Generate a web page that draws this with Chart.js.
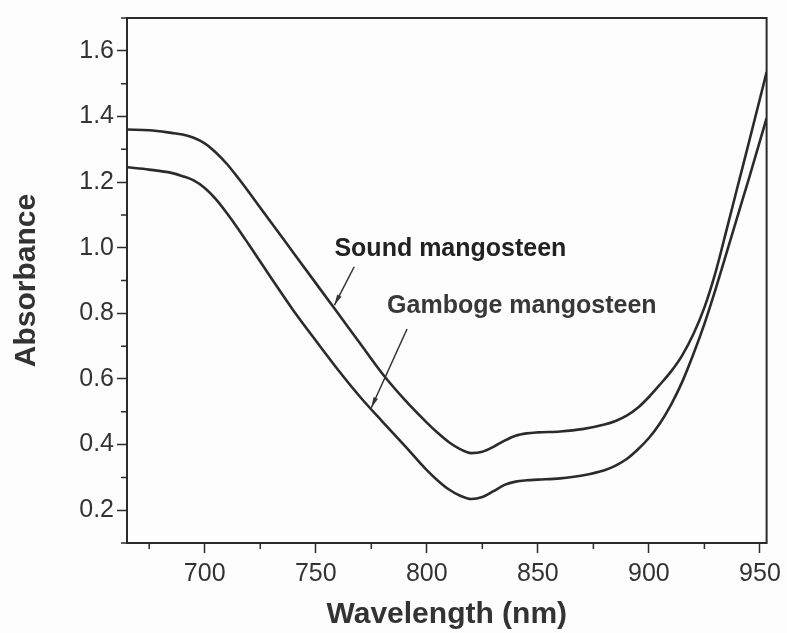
<!DOCTYPE html>
<html>
<head>
<meta charset="utf-8">
<script src="https://cdn.jsdelivr.net/npm/chart.js@4/dist/chart.umd.min.js"></script>
<style>
  html, body { margin: 0; padding: 0; background: #fdfdfd; }
  canvas { display: block; }
</style>
</head>
<body>
<canvas id="grafico" width="787" height="633"></canvas>
<script>
    // values
    const wavelengths = [665, 675, 685, 690, 695, 700, 705, 710, 715, 720, 730, 740, 750, 760, 770, 780, 790,
      800, 805, 810, 815, 820, 825, 830, 835, 840, 845, 850, 860, 870, 880, 885, 890, 895, 900,
      905, 910, 915, 920, 925, 930, 935, 940, 945, 953];

    const soundAbs = [1.360, 1.358, 1.350, 1.345, 1.335, 1.318, 1.290, 1.255, 1.213, 1.168, 1.076, 0.984, 0.892, 0.800, 0.708, 0.616, 0.537,
      0.467, 0.435, 0.407, 0.386, 0.374, 0.378, 0.393, 0.412, 0.427, 0.434, 0.437, 0.440, 0.447, 0.461, 0.472, 0.488, 0.512, 0.545,
      0.583, 0.623, 0.672, 0.736, 0.818, 0.925, 1.055, 1.188, 1.320, 1.535];

    const gambogeAbs = [1.245, 1.238, 1.228, 1.218, 1.205, 1.182, 1.148, 1.105, 1.058, 1.008, 0.907, 0.808, 0.717, 0.628, 0.545, 0.470, 0.397,
      0.322, 0.290, 0.263, 0.244, 0.234, 0.240, 0.258, 0.277, 0.287, 0.291, 0.293, 0.297, 0.306, 0.322, 0.336, 0.356, 0.385, 0.420,
      0.465, 0.522, 0.591, 0.675, 0.768, 0.873, 0.985, 1.098, 1.210, 1.395];

    const xTicks = [675, 700, 725, 750, 775, 800, 825, 850, 875, 900, 925, 950];
    const xLabels = [700, 750, 800, 850, 900, 950];
    const yTicks = [0.1, 0.2, 0.3, 0.4, 0.5, 0.6, 0.7, 0.8, 0.9, 1.0, 1.1, 1.2, 1.3, 1.4, 1.5, 1.6, 1.7];
    const yLabels = [0.2, 0.4, 0.6, 0.8, 1.0, 1.2, 1.4, 1.6];

    // annotations, in data units
    const notas = [
      { text: 'Sound mangosteen', x: 758.4, y: 0.997, color: '#222' },
      { text: 'Gamboge mangosteen', x: 782.1, y: 0.821, color: '#383838' }
    ];
    const setas = [
      { from: [767.3, 0.942], to: [758.4, 0.825] },
      { from: [791.1, 0.752], to: [775.0, 0.512] }
    ];

    const tinta = '#2b2b2b';
    const fonte = '"Liberation Sans", Arial, sans-serif';

    const isLabel = (list, v) => list.some(l => Math.abs(l - v) < 1e-6);

    const extras = {
      id: 'extras',
      afterDraw(chart) {
        const ctx = chart.ctx;
        const a = chart.chartArea;
        const sx = chart.scales.x, sy = chart.scales.y;
        ctx.save();
        // frame
        ctx.strokeStyle = tinta;
        ctx.lineWidth = 2;
        ctx.strokeRect(a.left, a.top, a.right - a.left, a.bottom - a.top);
        // minor ticks
        ctx.lineWidth = 1.5;
        ctx.beginPath();
        xTicks.filter(v => !isLabel(xLabels, v)).forEach(v => {
          const px = sx.getPixelForValue(v);
          ctx.moveTo(px, a.bottom); ctx.lineTo(px, a.bottom + 6);
        });
        yTicks.filter(v => !isLabel(yLabels, v)).forEach(v => {
          const py = sy.getPixelForValue(v);
          ctx.moveTo(a.left, py); ctx.lineTo(a.left - 6, py);
        });
        ctx.stroke();
        // text notes
        ctx.font = 'bold 25px ' + fonte;
        ctx.textBaseline = 'middle';
        ctx.textAlign = 'left';
        notas.forEach(n => {
          ctx.fillStyle = n.color;
          ctx.fillText(n.text, sx.getPixelForValue(n.x), sy.getPixelForValue(n.y));
        });
        // arrows
        ctx.strokeStyle = '#333';
        ctx.fillStyle = '#333';
        ctx.lineWidth = 1.5;
        setas.forEach(s => {
          const x1 = sx.getPixelForValue(s.from[0]), y1 = sy.getPixelForValue(s.from[1]);
          const x2 = sx.getPixelForValue(s.to[0]), y2 = sy.getPixelForValue(s.to[1]);
          const ang = Math.atan2(y2 - y1, x2 - x1);
          ctx.beginPath();
          ctx.moveTo(x1, y1); ctx.lineTo(x2, y2);
          ctx.stroke();
          ctx.beginPath();
          ctx.moveTo(x2, y2);
          ctx.lineTo(x2 - 11 * Math.cos(ang - 0.22), y2 - 11 * Math.sin(ang - 0.22));
          ctx.lineTo(x2 - 11 * Math.cos(ang + 0.22), y2 - 11 * Math.sin(ang + 0.22));
          ctx.closePath();
          ctx.fill();
        });
        ctx.restore();
      }
    };

    new Chart(document.getElementById('grafico'), {
      type: 'line',
      data: {
        datasets: [{
          label: 'Sound mangosteen',
          data: wavelengths.map((x, i) => ({ x: x, y: soundAbs[i] })),
          borderColor: tinta,
          borderWidth: 2.6,
          pointRadius: 0,
          cubicInterpolationMode: 'monotone'
        }, {
          label: 'Gamboge mangosteen',
          data: wavelengths.map((x, i) => ({ x: x, y: gambogeAbs[i] })),
          borderColor: tinta,
          borderWidth: 2.6,
          pointRadius: 0,
          cubicInterpolationMode: 'monotone'
        }]
      },
      options: {
        responsive: false,
        animation: false,
        layout: { padding: { top: 16, right: 19, left: 0, bottom: 0 } },
        plugins: { legend: { display: false }, tooltip: { enabled: false } },
        scales: {
          x: {
            type: 'linear',
            min: 665,
            max: 953,
            afterBuildTicks: s => { s.ticks = xTicks.map(v => ({ value: v })); },
            afterFit: s => { s.height = 90; },
            grid: {
              drawOnChartArea: false,
              tickLength: 10,
              tickWidth: 1.5,
              tickColor: c => isLabel(xLabels, c.tick.value) ? tinta : 'rgba(0,0,0,0)'
            },
            border: { color: tinta, width: 2 },
            ticks: {
              maxRotation: 0,
              autoSkip: false,
              padding: 6,
              color: '#333',
              font: { family: fonte, size: 25 },
              callback: v => isLabel(xLabels, v) ? String(v) : ''
            },
            title: {
              display: true,
              text: 'Wavelength (nm)',
              color: '#333',
              font: { family: fonte, size: 30, weight: 'bold' },
              padding: { top: 0, bottom: 0 }
            }
          },
          y: {
            min: 0.1,
            max: 1.7,
            afterBuildTicks: s => { s.ticks = yTicks.map(v => ({ value: v })); },
            afterFit: s => { s.width = 127; },
            grid: {
              drawOnChartArea: false,
              tickLength: 10,
              tickWidth: 1.5,
              tickColor: c => isLabel(yLabels, c.tick.value) ? tinta : 'rgba(0,0,0,0)'
            },
            border: { color: tinta, width: 2 },
            ticks: {
              autoSkip: false,
              padding: 3,
              color: '#333',
              font: { family: fonte, size: 25 },
              callback: v => isLabel(yLabels, v) ? v.toFixed(1) : ''
            },
            title: {
              display: true,
              text: 'Absorbance',
              color: '#333',
              font: { family: fonte, size: 30, weight: 'bold' },
              padding: { top: 9, bottom: 0 }
            }
          }
        }
      },
      plugins: [extras]
    });
</script>
</body>
</html>
